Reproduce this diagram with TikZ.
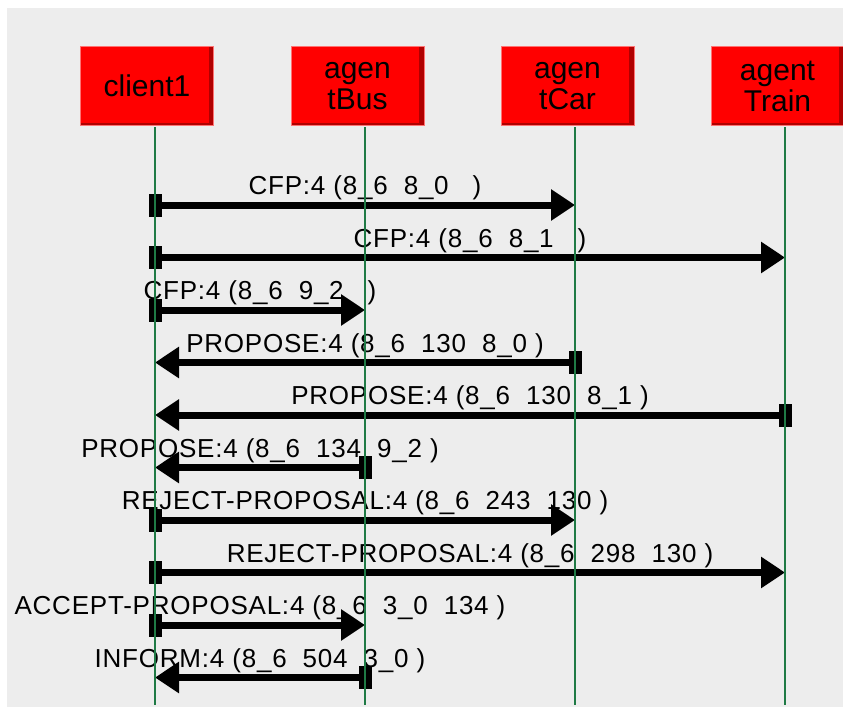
\documentclass[tikz,border=0pt]{standalone}
\usepackage{fontspec}
\setmainfont{Liberation Sans}
\newfontfamily\msgfont[LetterSpace=3]{Liberation Sans}
\usetikzlibrary{arrows.meta, positioning}
\definecolor{AgentRed}{HTML}{FF0000}
\definecolor{AgentShade}{HTML}{B00000}
\definecolor{LifeGreen}{HTML}{1F7A45}
\definecolor{PanelGray}{HTML}{EDEDED}

\begin{document}
\begin{tikzpicture}[x=1pt, y=-1pt,
  agent/.style={rectangle, fill=AgentRed, draw=AgentRed!55!white, line width=0.6pt,
    minimum width=133pt, minimum height=79pt, inner sep=0pt, align=center,
    font=\fontsize{30}{31}\selectfont,
    path picture={
      \fill[AgentShade] ([xshift=-5pt]path picture bounding box.north east) rectangle (path picture bounding box.south east);
      \fill[AgentShade] ([yshift=3pt]path picture bounding box.south west) rectangle (path picture bounding box.south east);}},
  sendmark/.style={rectangle, fill=black, minimum width=13pt, minimum height=23pt, inner sep=0pt},
  msg/.style={-{Triangle[length=24pt, width=30pt]}, line width=7pt},
  msglabel/.style={midway, anchor=base, yshift=10.5pt, inner sep=0pt, font=\msgfont\fontsize{26}{28}\selectfont},
  life/.style={LifeGreen, line width=2pt}
]
\useasboundingbox (0,0) rectangle (843,707);
\fill[PanelGray] (7,8) rectangle (843,707);

% participants
\node[agent] (client1)    at (147,86)   {client1};
\node[agent] (agentBus)   at (357.5,86) {agen\\tBus};
\node[agent] (agentCar)   at (567.5,86) {agen\\tCar};
\node[agent] (agentTrain) at (777.5,86) {agent\\Train};

% lifeline ends
\coordinate (client1top)    at (155,127);
\coordinate (client1end)    at (155,705);
\coordinate (agentBustop)   at (365,127);
\coordinate (agentBusend)   at (365,705);
\coordinate (agentCartop)   at (575,127);
\coordinate (agentCarend)   at (575,705);
\coordinate (agentTraintop) at (785,127);
\coordinate (agentTrainend) at (785,705);

% messages
\node[sendmark] (cfp1) at (155,205) {};
\coordinate (cfp1r) at (575,205);
\draw[msg] (cfp1.center) -- node[msglabel] {CFP:4 (8\_6~~8\_0~~~)} (cfp1r);

\node[sendmark] (cfp2) at (155,257.5) {};
\coordinate (cfp2r) at (785,257.5);
\draw[msg] (cfp2.center) -- node[msglabel] {CFP:4 (8\_6~~8\_1~~~)} (cfp2r);

\node[sendmark] (cfp3) at (155,310) {};
\coordinate (cfp3r) at (365,310);
\draw[msg] (cfp3.center) -- node[msglabel] {CFP:4 (8\_6~~9\_2~~~)} (cfp3r);

\node[sendmark] (prop1) at (575,362.5) {};
\coordinate (prop1r) at (155,362.5);
\draw[msg] (prop1.center) -- node[msglabel] {PROPOSE:4 (8\_6~~130~~8\_0 )} (prop1r);

\node[sendmark] (prop2) at (785,415) {};
\coordinate (prop2r) at (155,415);
\draw[msg] (prop2.center) -- node[msglabel] {PROPOSE:4 (8\_6~~130~~8\_1 )} (prop2r);

\node[sendmark] (prop3) at (365,467.5) {};
\coordinate (prop3r) at (155,467.5);
\draw[msg] (prop3.center) -- node[msglabel] {PROPOSE:4 (8\_6~~134~~9\_2 )} (prop3r);

\node[sendmark] (rej1) at (155,520) {};
\coordinate (rej1r) at (575,520);
\draw[msg] (rej1.center) -- node[msglabel] {REJECT-PROPOSAL:4 (8\_6~~243~~130 )} (rej1r);

\node[sendmark] (rej2) at (155,572.5) {};
\coordinate (rej2r) at (785,572.5);
\draw[msg] (rej2.center) -- node[msglabel] {REJECT-PROPOSAL:4 (8\_6~~298~~130 )} (rej2r);

\node[sendmark] (acc1) at (155,625) {};
\coordinate (acc1r) at (365,625);
\draw[msg] (acc1.center) -- node[msglabel] {ACCEPT-PROPOSAL:4 (8\_6~~3\_0~~134 )} (acc1r);

\node[sendmark] (inf1) at (365,677.5) {};
\coordinate (inf1r) at (155,677.5);
\draw[msg] (inf1.center) -- node[msglabel] {INFORM:4 (8\_6~~504~~3\_0 )} (inf1r);

% lifelines on top
\draw[life] (client1top) -- (client1end);
\draw[life] (agentBustop) -- (agentBusend);
\draw[life] (agentCartop) -- (agentCarend);
\draw[life] (agentTraintop) -- (agentTrainend);
\end{tikzpicture}
\end{document}
